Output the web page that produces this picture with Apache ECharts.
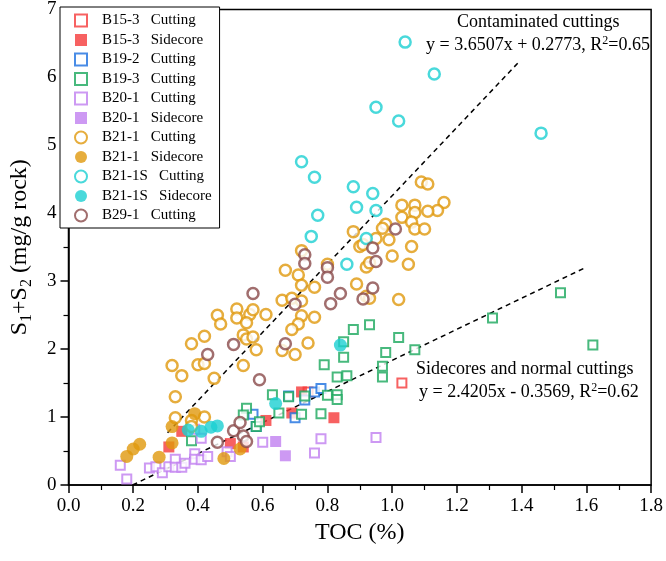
<!DOCTYPE html>
<html>
<head>
<meta charset="utf-8">
<script src="https://cdn.jsdelivr.net/npm/echarts@6/dist/echarts.min.js"></script>
<style>
  html, body { margin: 0; padding: 0; background: #fff; }
  #chart { width: 666px; height: 561px; }
</style>
</head>
<body>
<div id="chart"></div>
<script>
// data: [TOC %, S1+S2 mg/g rock]
const b153Cut = [[1.03,1.50],[0.74,1.37]];
const b153Side = [[0.31,0.56],[0.35,0.79],[0.50,0.61],[0.54,0.56],[0.61,0.95],[0.69,1.06],[0.82,0.99],[0.72,1.37]];
const b192Cut = [[0.57,1.04],[0.58,0.86],[0.68,1.31],[0.70,0.99],[0.73,1.25],[0.76,1.37],[0.78,1.42]];
const b193Cut = [[0.88,2.29],[0.93,2.36],[0.85,2.11],[1.02,2.17],[1.07,1.99],[0.98,1.95],[0.85,1.88],[0.79,1.77],
  [0.83,1.59],[0.86,1.61],[0.97,1.75],[0.97,1.59],[0.63,1.33],[0.68,1.30],[0.73,1.31],[0.80,1.32],[0.83,1.33],
  [0.83,1.26],[0.78,1.05],[0.72,1.04],[0.65,1.06],[0.58,0.86],[0.55,1.13],[0.54,1.03],[0.59,0.93],[0.38,0.65],
  [1.31,2.46],[1.52,2.83],[1.62,2.06]];
const b201Cut = [[0.16,0.29],[0.18,0.09],[0.25,0.25],[0.27,0.27],[0.29,0.18],[0.31,0.27],[0.33,0.38],[0.33,0.26],
  [0.35,0.26],[0.36,0.32],[0.39,0.46],[0.39,0.38],[0.41,0.37],[0.43,0.42],[0.41,0.69],[0.39,0.82],[0.49,0.49],
  [0.50,0.42],[0.60,0.63],[0.78,0.68],[0.76,0.47],[0.95,0.70]];
const b201Side = [[0.64,0.64],[0.67,0.43]];
const b211Cut = [[0.46,2.50],[0.47,2.37],[0.52,2.59],[0.52,2.46],[0.56,2.51],[0.55,2.39],[0.57,2.58],[0.61,2.51],
  [0.38,2.08],[0.42,2.19],[0.40,1.77],[0.42,1.79],[0.32,1.76],[0.35,1.61],[0.45,1.57],[0.54,2.21],[0.55,2.15],
  [0.57,2.18],[0.58,1.99],[0.54,1.76],[0.33,1.30],[0.33,0.99],[0.38,0.95],[0.42,1.00],[0.38,0.86],
  [0.72,3.45],[0.67,3.16],[0.71,3.09],[0.72,2.94],[0.76,2.91],[0.66,2.72],[0.69,2.75],[0.72,2.71],[0.72,2.49],
  [0.76,2.47],[0.71,2.37],[0.69,2.29],[0.74,2.09],[0.66,1.98],[0.70,1.92],
  [1.09,4.46],[1.11,4.43],[1.16,4.16],[1.14,4.04],[1.11,4.03],[1.07,4.12],[1.07,4.01],[1.03,4.12],[1.03,3.94],
  [1.06,3.87],[1.07,3.77],[1.10,3.77],[0.98,3.84],[0.97,3.78],[0.99,3.61],[0.95,3.63],[0.90,3.51],[0.91,3.54],
  [0.88,3.73],[1.06,3.51],[1.00,3.37],[1.05,3.25],[0.92,3.21],[0.93,3.27],[0.89,2.96],[0.92,2.78],[0.93,2.75],
  [1.02,2.73],[0.80,3.25]];
const b211Side = [[0.18,0.42],[0.20,0.53],[0.22,0.60],[0.28,0.41],[0.32,0.62],[0.32,0.86],[0.39,1.05],[0.48,0.39],[0.53,0.53]];
const b211SCut = [[1.04,6.52],[1.13,6.05],[0.95,5.56],[1.02,5.36],[1.46,5.18],[0.72,4.76],[0.76,4.53],[0.88,4.39],
  [0.94,4.29],[0.89,4.09],[0.95,4.04],[0.77,3.97],[0.75,3.66],[0.92,3.63],[0.86,3.25]];
const b211SSide = [[0.37,0.81],[0.41,0.79],[0.44,0.85],[0.46,0.87],[0.64,1.20],[0.84,2.06]];
const b291Cut = [[0.57,2.82],[0.43,1.92],[0.51,2.07],[0.59,1.55],[0.46,0.63],[0.51,0.80],[0.53,0.92],[0.54,0.72],
  [0.55,0.64],[0.67,2.08],[0.70,2.66],[0.73,3.39],[0.73,3.26],[1.01,3.77],[0.94,3.49],[0.95,3.29],[0.80,3.20],
  [0.80,3.06],[0.84,2.82],[0.81,2.67],[0.91,2.74],[0.94,2.90]];

// dashed fit lines as drawn in the figure (end points)
const contamLine = [[0.306,0.77],[1.388,6.21]];
const normalLine = [[0.198,0.0],[1.601,3.21]];

const serif = 'Liberation Serif';

const groups = [
  { name: 'B15-3 Cutting', data: b153Cut, color: '#f53a3a', symbol: 'rect', open: true },
  { name: 'B15-3 Sidecore', data: b153Side, color: '#f53a3a', symbol: 'rect', open: false },
  { name: 'B19-2 Cutting', data: b192Cut, color: '#1c6fe0', symbol: 'rect', open: true },
  { name: 'B19-3 Cutting', data: b193Cut, color: '#1aa85c', symbol: 'rect', open: true },
  { name: 'B20-1 Cutting', data: b201Cut, color: '#c07ff0', symbol: 'rect', open: true },
  { name: 'B20-1 Sidecore', data: b201Side, color: '#c07ff0', symbol: 'rect', open: false },
  { name: 'B21-1 Cutting', data: b211Cut, color: '#e0980c', symbol: 'circle', open: true },
  { name: 'B21-1 Sidecore', data: b211Side, color: '#e0980c', symbol: 'circle', open: false },
  { name: 'B21-1S Cutting', data: b211SCut, color: '#1ccfd2', symbol: 'circle', open: true },
  { name: 'B21-1S Sidecore', data: b211SSide, color: '#1ccfd2', symbol: 'circle', open: false },
  { name: 'B29-1 Cutting', data: b291Cut, color: '#8a4a4a', symbol: 'circle', open: true }
];

const series = groups.map(g => ({
  name: g.name,
  type: 'scatter',
  data: g.data,
  symbol: g.symbol,
  symbolSize: g.symbol === 'rect' ? (g.open ? 9 : 11) : (g.open ? 11 : 13),
  itemStyle: g.open
    ? { color: '#fff', borderColor: g.color, borderWidth: g.symbol === 'rect' ? 2 : 2.5 }
    : { color: g.color },
  emphasis: { disabled: true }
}));

[contamLine, normalLine].forEach(d => {
  series.push({
    type: 'line',
    data: d,
    symbol: 'none',
    lineStyle: { color: '#000', width: 1.5, type: [5, 4] },
    z: 1,
    silent: true
  });
});

const chart = echarts.init(document.getElementById('chart'));

chart.setOption({
  animation: false,
  backgroundColor: '#fff',
  grid: { left: 60, right: 14, top: 7, bottom: 76, show: true, borderColor: '#000', borderWidth: 1.5 },
  legend: {
    data: groups.map(g => g.name),
    orient: 'vertical',
    left: 60,
    top: 7,
    itemWidth: 12,
    itemHeight: 12,
    itemGap: 4.5,
    padding: [6, 8, 5, 14],
    backgroundColor: '#fff',
    borderColor: '#000',
    borderWidth: 1,
    formatter: n => n.replace(' ', '   '),
    textStyle: { fontFamily: serif, fontSize: 15, color: '#000', padding: [0, 0, 0, 10] }
  },
  xAxis: {
    type: 'value',
    min: 0,
    max: 1.8,
    interval: 0.2,
    name: 'TOC (%)',
    nameLocation: 'middle',
    nameGap: 34,
    nameTextStyle: { fontFamily: serif, fontSize: 24, color: '#000' },
    axisLine: { onZero: false, lineStyle: { color: '#000', width: 1.5 } },
    axisTick: { length: 8, lineStyle: { color: '#000', width: 1.5 } },
    minorTick: { show: true, splitNumber: 2, length: 5, lineStyle: { color: '#000', width: 1.2 } },
    axisLabel: { fontFamily: serif, fontSize: 19, color: '#000', margin: 12, formatter: v => v.toFixed(1) },
    splitLine: { show: false }
  },
  yAxis: {
    type: 'value',
    min: 0,
    max: 7,
    interval: 1,
    name: 'S{sub|1}+S{sub|2} (mg/g rock)',
    nameLocation: 'middle',
    nameGap: 34,
    nameTextStyle: {
      fontFamily: serif, fontSize: 24, color: '#000',
      rich: { sub: { fontFamily: serif, fontSize: 16, color: '#000', padding: [13, 0, 0, 0] } }
    },
    axisLine: { onZero: false, lineStyle: { color: '#000', width: 1.5 } },
    axisTick: { length: 8, lineStyle: { color: '#000', width: 1.5 } },
    minorTick: { show: true, splitNumber: 2, length: 5, lineStyle: { color: '#000', width: 1.2 } },
    axisLabel: { fontFamily: serif, fontSize: 19, color: '#000', margin: 12 },
    splitLine: { show: false }
  },
  graphic: [
    { type: 'text', left: 457, top: 13, style: { text: 'Contaminated cuttings', font: '18px "Liberation Serif"', fill: '#000' } },
    { type: 'text', left: 426, top: 35, style: {
      text: 'y = 3.6507x + 0.2773, R{sup|2}=0.65', font: '18px "Liberation Serif"', fill: '#000',
      rich: { sup: { fontSize: 12, fontFamily: serif, padding: [0, 0, 9, 0] } } } },
    { type: 'text', left: 416, top: 360, style: { text: 'Sidecores and normal cuttings', font: '18px "Liberation Serif"', fill: '#000' } },
    { type: 'text', left: 419, top: 382, style: {
      text: 'y = 2.4205x - 0.3569, R{sup|2}=0.62', font: '18px "Liberation Serif"', fill: '#000',
      rich: { sup: { fontSize: 12, fontFamily: serif, padding: [0, 0, 9, 0] } } } }
  ],
  series: series
});
</script>
</body>
</html>
